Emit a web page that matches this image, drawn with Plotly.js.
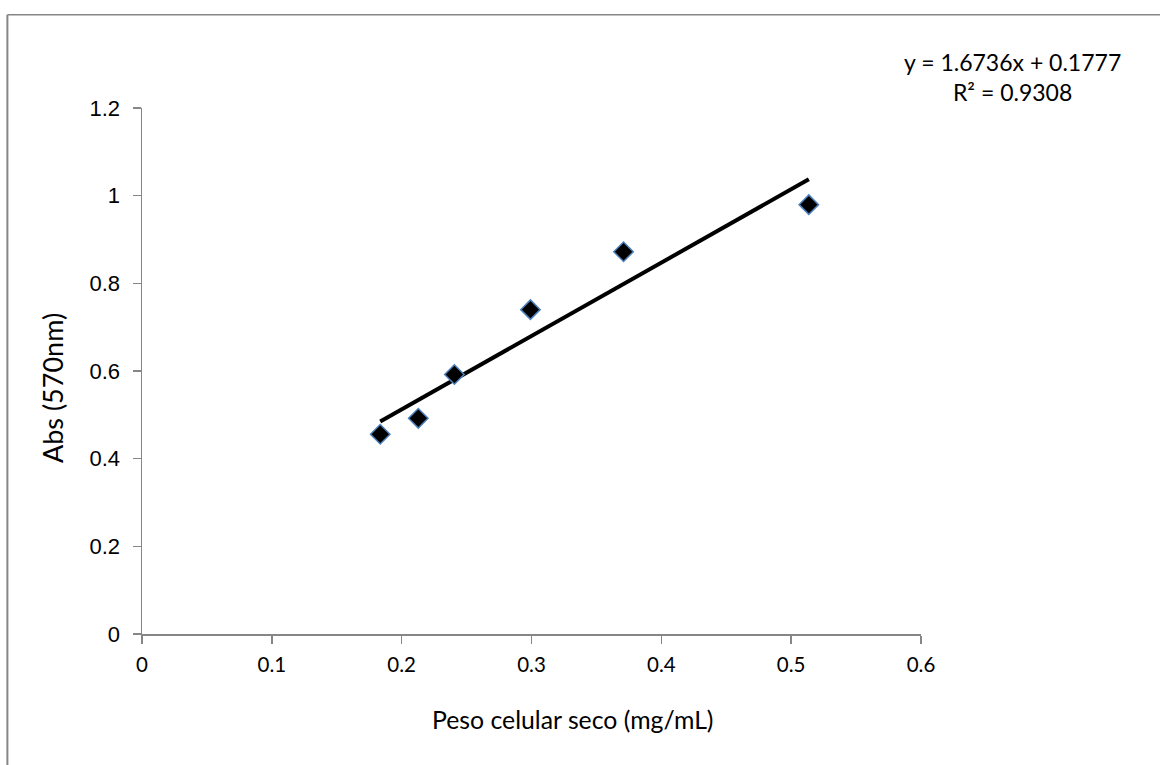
<!DOCTYPE html>
<html><head><meta charset="utf-8">
<script src="https://cdn.plot.ly/plotly-3.0.1.min.js"></script>
<style>html,body{margin:0;padding:0;background:#fff;}#chart{width:1160px;height:765px;}</style>
</head><body><div id="chart"></div>
<script>
const pesoSeco = [0.1835, 0.2128, 0.2406, 0.2992, 0.3709, 0.5136];
const absorbancia = [0.4556, 0.492, 0.592, 0.740, 0.872, 0.9795];
const slope = 1.6736;
const intercept = 0.1777;
const eqText = "y = 1.6736x + 0.1777<br>R² = 0.9308";
const xTitle = "Peso celular seco (mg/mL)";
const yTitle = "Abs (570nm)";
const xTicks = [0, 0.1, 0.2, 0.3, 0.4, 0.5, 0.6];
const yTicks = [0, 0.2, 0.4, 0.6, 0.8, 1, 1.2];

const xMin = Math.min(...pesoSeco), xMax = Math.max(...pesoSeco);
const trendX = [xMin, xMax];
const trendY = trendX.map(v => slope * v + intercept);

const W = 1160, H = 765;
const m = {l: 142, r: 238.5, t: 108, b: 131};
const pw = W - m.l - m.r, ph = H - m.t - m.b;
const px = p => (p - m.l) / pw;
const py = p => 1 - (p - m.t) / ph;

const calibri = "Lato, 'Open Sans', sans-serif";
const arial = "'Liberation Sans', Arial, sans-serif";

const traces = [
  {x: trendX, y: trendY, mode: 'lines', line: {color: '#000', width: 4}, hoverinfo: 'skip', showlegend: false},
  {x: pesoSeco, y: absorbancia, mode: 'markers', showlegend: false,
   marker: {symbol: 'diamond', size: 15, color: '#000', line: {color: '#4F81BD', width: 1.5}}}
];

const layout = {
  width: W, height: H,
  margin: m,
  paper_bgcolor: '#fff', plot_bgcolor: '#fff',
  showlegend: false,
  xaxis: {
    range: [0, 0.6], tickvals: xTicks, ticktext: xTicks.map(String),
    showgrid: false, zeroline: false, showline: true, linecolor: '#868686', linewidth: 1.5,
    ticks: 'outside', ticklen: 8, tickcolor: '#868686', tickwidth: 1.5,
    tickfont: {family: calibri, size: 20.5, color: '#000'},
    ticklabelstandoff: 4
  },
  yaxis: {
    range: [0, 1.2], tickvals: yTicks, ticktext: yTicks.map(String),
    showgrid: false, zeroline: false, showline: true, linecolor: '#868686', linewidth: 1.5,
    ticks: 'outside', ticklen: 8, tickcolor: '#868686', tickwidth: 1.5,
    tickfont: {family: arial, size: 22, color: '#000'},
    ticklabelstandoff: 8
  },
  annotations: [
    {xref: 'paper', yref: 'paper', x: px(1013), y: py(77.5), xanchor: 'center', yanchor: 'middle',
     text: eqText, showarrow: false, align: 'center', font: {family: calibri, size: 23, color: '#000'}},
    {xref: 'paper', yref: 'paper', x: px(573), y: py(719), xanchor: 'center', yanchor: 'middle',
     text: xTitle, showarrow: false, font: {family: calibri, size: 24.8, color: '#000'}},
    {xref: 'paper', yref: 'paper', x: px(52), y: py(388), xanchor: 'center', yanchor: 'middle', textangle: -90,
     text: yTitle, showarrow: false, font: {family: calibri, size: 27, color: '#000'}}
  ],
  shapes: [
    {type: 'line', xref: 'paper', yref: 'paper', x0: px(7.3), x1: px(1175), y0: py(14.7), y1: py(14.7), line: {color: '#868686', width: 1.5}},
    {type: 'line', xref: 'paper', yref: 'paper', x0: px(7.3), x1: px(7.3), y0: py(14.7), y1: py(790), line: {color: '#868686', width: 2}}
  ]
};

Plotly.newPlot('chart', traces, layout, {displayModeBar: false, staticPlot: true});
</script></body></html>
